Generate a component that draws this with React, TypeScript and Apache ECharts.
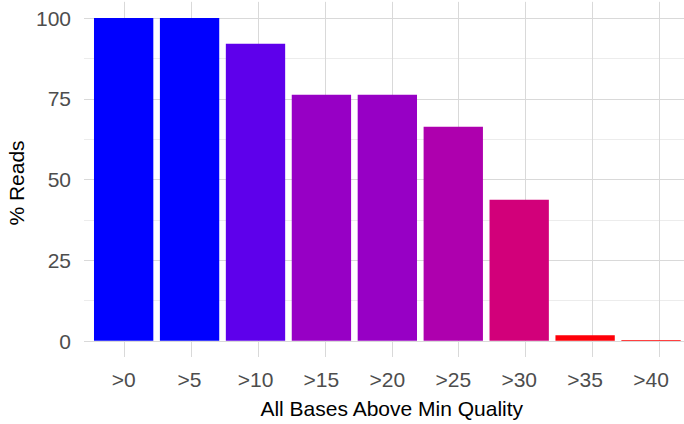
import React, { useEffect, useRef } from "react";
import * as echarts from "echarts";

const categories = [">0", ">5", ">10", ">15", ">20", ">25", ">30", ">35", ">40"];
const readsPct = [100, 100, 92, 76.2, 76.2, 66.3, 43.7, 1.7, 0.3];
const yTicks = [0, 25, 50, 75, 100];

// ggplot-like Lab gradient (low = red, high = blue)
function toLin(c: number) {
  c /= 255;
  return c <= 0.04045 ? c / 12.92 : Math.pow((c + 0.055) / 1.055, 2.4);
}
function toSrgb(c: number) {
  c = Math.max(0, Math.min(1, c));
  const v = c <= 0.0031308 ? 12.92 * c : 1.055 * Math.pow(c, 1 / 2.4) - 0.055;
  return Math.round(Math.max(0, Math.min(1, v)) * 255);
}
const Xn = 0.95047, Yn = 1, Zn = 1.08883;
function rgbToLab(rgb: number[]) {
  const r = toLin(rgb[0]), g = toLin(rgb[1]), b = toLin(rgb[2]);
  const X = 0.4124 * r + 0.3576 * g + 0.1805 * b;
  const Y = 0.2126 * r + 0.7152 * g + 0.0722 * b;
  const Z = 0.0193 * r + 0.1192 * g + 0.9505 * b;
  const f = (t: number) => (t > 0.008856 ? Math.cbrt(t) : 7.787 * t + 16 / 116);
  const fx = f(X / Xn), fy = f(Y / Yn), fz = f(Z / Zn);
  return [116 * fy - 16, 500 * (fx - fy), 200 * (fy - fz)];
}
function labToHex(lab: number[]) {
  const fy = (lab[0] + 16) / 116;
  const fx = fy + lab[1] / 500;
  const fz = fy - lab[2] / 200;
  const inv = (t: number) => (t * t * t > 0.008856 ? t * t * t : (t - 16 / 116) / 7.787);
  const X = inv(fx) * Xn, Y = inv(fy) * Yn, Z = inv(fz) * Zn;
  const r = 3.2406 * X - 1.5372 * Y - 0.4986 * Z;
  const g = -0.9689 * X + 1.8758 * Y + 0.0415 * Z;
  const b = 0.0557 * X - 0.204 * Y + 1.057 * Z;
  const h = (n: number) => n.toString(16).padStart(2, "0");
  return "#" + h(toSrgb(r)) + h(toSrgb(g)) + h(toSrgb(b));
}
const lowLab = rgbToLab([255, 0, 0]);
const highLab = rgbToLab([0, 0, 255]);
function fillFor(v: number, lo: number, hi: number) {
  const t = (v - lo) / (hi - lo);
  return labToHex([0, 1, 2].map((i) => lowLab[i] + (highLab[i] - lowLab[i]) * t));
}

export default function App() {
  const ref = useRef<HTMLDivElement>(null);
  useEffect(() => {
    if (!ref.current) return;
    const chart = echarts.init(ref.current, null, { renderer: "svg" });
    const lo = Math.min(...readsPct), hi = Math.max(...readsPct);
    const font = "'Liberation Sans', Arial, Helvetica, sans-serif";
    const fs = 21;

    const panelLeft = 84;
    const panelTop = 1.85;
    const panelHeight = 355.15;
    const panelWidth = 615.5;
    const n = categories.length;
    const step = panelWidth / (n + 0.2);
    const catLeft = panelLeft + 0.1 * step;
    const catWidth = step * n;

    chart.setOption({
      animation: false,
      backgroundColor: "#ffffff",
      grid: [
        { left: panelLeft, top: 18, width: panelWidth, height: 323 },
        { left: catLeft + step / 2, top: panelTop, width: step * (n - 1), height: panelHeight },
        { left: catLeft, top: panelTop, width: catWidth, height: panelHeight },
      ],
      xAxis: [
        { type: "value", gridIndex: 0, min: 0, max: 1, show: false },
        {
          type: "value",
          gridIndex: 1,
          min: 0,
          max: n - 1,
          interval: 1,
          axisLine: { show: false },
          axisTick: { show: false },
          axisLabel: { show: false },
          splitLine: { show: true, lineStyle: { color: "#d9d9d9", width: 1 } },
        },
        {
          type: "category",
          gridIndex: 2,
          data: categories,
          axisLine: { show: false },
          axisTick: { show: false },
          axisLabel: { color: "#4d4d4d", fontSize: fs, fontFamily: font, margin: 12 },
          splitLine: { show: false },
        },
      ],
      yAxis: [
        {
          type: "value",
          gridIndex: 0,
          min: yTicks[0],
          max: yTicks[yTicks.length - 1],
          interval: 25,
          axisLine: { show: false },
          axisTick: { show: false },
          axisLabel: { color: "#4d4d4d", fontSize: fs, fontFamily: font, margin: 13 },
          splitLine: { show: true, lineStyle: { color: "#d9d9d9", width: 1 } },
          minorTick: { show: false, splitNumber: 2 },
          minorSplitLine: { show: true, lineStyle: { color: "#ececec", width: 1 } },
        },
        { type: "value", gridIndex: 1, min: -5, max: 105, show: false },
        { type: "value", gridIndex: 2, min: -5, max: 105, show: false },
      ],
      graphic: [
        {
          type: "text",
          x: 16,
          y: 183,
          rotation: Math.PI / 2,
          style: {
            text: "% Reads",
            fill: "#000000",
            fontSize: fs,
            fontFamily: font,
            textAlign: "center",
            textVerticalAlign: "middle",
          },
        },
        {
          type: "text",
          x: panelLeft + panelWidth / 2,
          y: 408,
          style: {
            text: "All Bases Above Min Quality",
            fill: "#000000",
            fontSize: fs,
            fontFamily: font,
            textAlign: "center",
            textVerticalAlign: "middle",
          },
        },
      ],
      series: [
        {
          type: "bar",
          xAxisIndex: 2,
          yAxisIndex: 2,
          barWidth: "90%",
          data: readsPct.map((v) => ({
            value: v,
            itemStyle: { color: fillFor(v, lo, hi) },
          })),
        },
      ],
    });
    return () => chart.dispose();
  }, []);
  return (
    <div
      ref={ref}
      style={{ position: "absolute", left: 0, top: 0, width: 684, height: 424 }}
    />
  );
}
